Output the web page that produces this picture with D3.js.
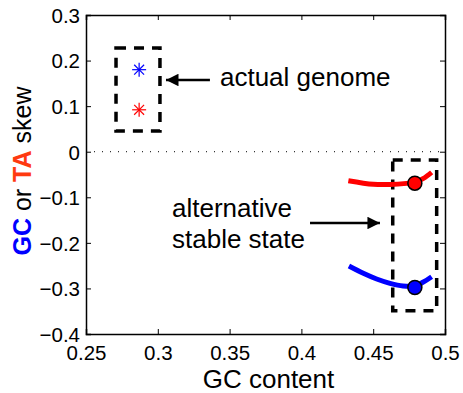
<!DOCTYPE html>
<html>
<head>
<meta charset="utf-8">
<script src="https://cdn.jsdelivr.net/npm/d3@7"></script>
<style>
  body { margin: 0; background: #fff; }
  text { font-family: Arial, "Liberation Sans", sans-serif; }
</style>
</head>
<body>
<svg id="chart" width="463" height="393"></svg>
<script>
// data
var xTicks = [0.25, 0.3, 0.35, 0.4, 0.45, 0.5];
var yTicks = [0.3, 0.2, 0.1, 0, -0.1, -0.2, -0.3, -0.4];

// actual genome (stars)
var starGC = {x: 0.287, y: 0.18};
var starTA = {x: 0.287, y: 0.092};

// alternative stable state curves
var taCurveX = [0.4327, 0.4501, 0.4617, 0.4733, 0.4791, 0.4850, 0.4907];
var taCurveY = [-0.0636, -0.0715, -0.0720, -0.0695, -0.0670, -0.0585, -0.0452];
var gcCurveX = [0.4331, 0.4431, 0.4524, 0.4617, 0.4708, 0.4793, 0.4849, 0.4907];
var gcCurveY = [-0.2508, -0.2668, -0.2793, -0.2888, -0.2945, -0.2940, -0.2860, -0.2743];
var taPoint = {x: 0.479, y: -0.069};
var gcPoint = {x: 0.479, y: -0.298};

// annotation boxes [x0, x1, y0, y1]
var box1 = [0.2709, 0.3015, 0.0455, 0.2276];
var box2 = [0.4636, 0.4942, -0.349, -0.018];

var margin = {top: 15, right: 18, bottom: 59, left: 86},
    width = 463 - margin.left - margin.right,
    height = 393 - margin.top - margin.bottom;

var svg = d3.select("#chart");
var g = svg.append("g").attr("transform", "translate(" + margin.left + "," + margin.top + ")");

var x = d3.scaleLinear().domain([0.25, 0.5]).range([0, width]);
var y = d3.scaleLinear().domain([-0.4, 0.3]).range([height, 0]);

function fmt(d) {
  var s = d3.format("")(Math.round(d * 100) / 100);
  return s.replace("-", "\u2212");
}

// axes, ticks inward, matlab box
var xAxis = d3.axisBottom(x).tickValues(xTicks).tickSize(-5).tickPadding(11).tickFormat(fmt);
var yAxis = d3.axisLeft(y).tickValues(yTicks).tickSize(-5).tickPadding(6).tickFormat(fmt);

var gx = g.append("g").attr("transform", "translate(0," + height + ")").call(xAxis);
var gy = g.append("g").call(yAxis);
g.append("g")
  .call(d3.axisTop(x).tickValues(xTicks).tickSize(-5).tickFormat(""));
g.append("g").attr("transform", "translate(" + width + ",0)")
  .call(d3.axisRight(y).tickValues(yTicks).tickSize(-5).tickFormat(""));

g.selectAll(".domain").attr("stroke", "#000").attr("stroke-width", 1.5);
g.selectAll(".tick line").attr("stroke", "#000").attr("stroke-width", 1);
g.selectAll(".tick text").attr("font-size", "20.5px").attr("fill", "#000");
gy.selectAll(".tick text").attr("dy", "0.36em");
gx.selectAll(".tick text").attr("dy", "0.72em");

// zero line
g.append("line")
  .attr("x1", x(0.25)).attr("x2", x(0.5))
  .attr("y1", y(0)).attr("y2", y(0))
  .attr("stroke", "#000").attr("stroke-width", 1)
  .attr("stroke-dasharray", "1,7");

// axis labels
svg.append("text")
  .attr("x", margin.left + width / 2 + 3)
  .attr("y", 388)
  .attr("text-anchor", "middle")
  .attr("font-size", "26px")
  .text("GC content");

var yl = svg.append("text")
  .attr("transform", "translate(31," + (margin.top + 156) + ")rotate(-90)")
  .attr("text-anchor", "middle")
  .attr("font-size", "25px");
yl.append("tspan").attr("fill", "#0000ff").attr("font-weight", "bold").text("GC");
yl.append("tspan").attr("fill", "#000").text(" or ");
yl.append("tspan").attr("fill", "#ff3a10").attr("font-weight", "bold").text("TA");
yl.append("tspan").attr("fill", "#000").text(" skew");

// dashed boxes
[box1, box2].forEach(function (b) {
  g.append("rect")
    .attr("x", x(b[0])).attr("y", y(b[3]))
    .attr("width", x(b[1]) - x(b[0]))
    .attr("height", y(b[2]) - y(b[3]))
    .attr("fill", "none")
    .attr("stroke", "#000")
    .attr("stroke-width", 3.5)
    .attr("stroke-dasharray", "10,8");
});

// arrows
svg.append("defs").append("marker")
  .attr("id", "head")
  .attr("viewBox", "0 0 10 10")
  .attr("refX", 10).attr("refY", 5)
  .attr("markerWidth", 6).attr("markerHeight", 5)
  .attr("markerUnits", "strokeWidth")
  .attr("orient", "auto")
  .append("path").attr("d", "M0,0L10,5L0,10Z").attr("fill", "#000");

var arrows = [
  {x1: 0.3363, x2: 0.3057, y: 0.1574},
  {x1: 0.4060, x2: 0.4547, y: -0.1564}
];
arrows.forEach(function (a) {
  g.append("line")
    .attr("x1", x(a.x1)).attr("x2", x(a.x2))
    .attr("y1", y(a.y)).attr("y2", y(a.y))
    .attr("stroke", "#000").attr("stroke-width", 2.5)
    .attr("marker-end", "url(#head)");
});

// annotation texts
g.append("text").attr("x", x(0.3433)).attr("y", y(0.144))
  .attr("font-size", "26px").text("actual genome");
g.append("text").attr("x", x(0.3099)).attr("y", y(-0.143))
  .attr("font-size", "26px").text("alternative");
g.append("text").attr("x", x(0.3099)).attr("y", y(-0.211))
  .attr("font-size", "26px").text("stable state");

// star markers
function star(p, color) {
  var r = 7, s = r * Math.SQRT1_2;
  var sg = g.append("g").attr("transform", "translate(" + x(p.x) + "," + y(p.y) + ")")
    .attr("stroke", color).attr("stroke-width", 1.2);
  sg.append("line").attr("x1", -r).attr("x2", r).attr("y1", 0).attr("y2", 0);
  sg.append("line").attr("x1", 0).attr("x2", 0).attr("y1", -r).attr("y2", r);
  sg.append("line").attr("x1", -s).attr("x2", s).attr("y1", -s).attr("y2", s);
  sg.append("line").attr("x1", -s).attr("x2", s).attr("y1", s).attr("y2", -s);
}
star(starGC, "#0000ff");
star(starTA, "#ff0000");

// curves
var line = d3.line()
  .x(function (d) { return x(d[0]); })
  .y(function (d) { return y(d[1]); })
  .curve(d3.curveCatmullRom);

g.append("path")
  .datum(d3.zip(taCurveX, taCurveY))
  .attr("d", line)
  .attr("fill", "none").attr("stroke", "#ff0000").attr("stroke-width", 5);
g.append("path")
  .datum(d3.zip(gcCurveX, gcCurveY))
  .attr("d", line)
  .attr("fill", "none").attr("stroke", "#0000ff").attr("stroke-width", 5);

g.append("circle").attr("cx", x(taPoint.x)).attr("cy", y(taPoint.y)).attr("r", 7)
  .attr("fill", "#ff0000").attr("stroke", "#000").attr("stroke-width", 1.5);
g.append("circle").attr("cx", x(gcPoint.x)).attr("cy", y(gcPoint.y)).attr("r", 7)
  .attr("fill", "#0000ff").attr("stroke", "#000").attr("stroke-width", 1.5);
</script>
</body>
</html>
